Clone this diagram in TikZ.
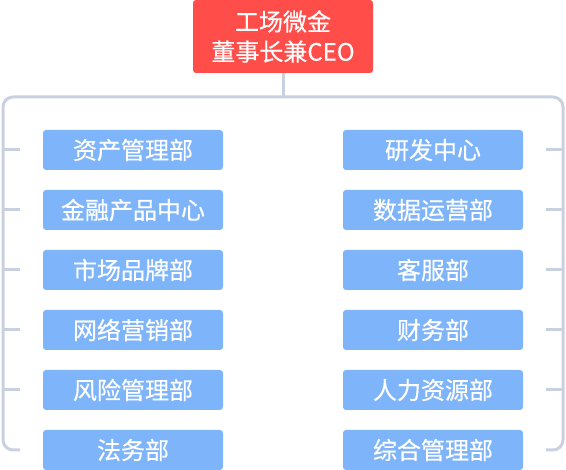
\documentclass[tikz,border=0pt]{standalone}
\usepackage{fontspec}
\newfontfamily\cjk[FakeBold=0.4]{Noto Sans CJK SC}
\definecolor{ceo}{HTML}{FF4D4A}
\definecolor{dept}{HTML}{7EB4FA}
\definecolor{linec}{HTML}{C9D1E1}
\begin{document}
\begin{tikzpicture}[x=1pt,y=-1pt,
  ceobox/.style={fill=ceo, rounded corners=3pt, minimum width=180pt, minimum height=73pt, inner sep=0pt,
    text=white, font=\cjk\fontsize{24}{30}\selectfont, align=center},
  deptbox/.style={fill=dept, rounded corners=3pt, minimum width=180pt, minimum height=40pt, inner sep=0pt,
    text=white, font=\cjk\fontsize{24}{26}\selectfont},
  conn/.style={draw=linec, line width=3pt}]
\useasboundingbox (0,0) rectangle (566,470);
\node[ceobox] (ceo) at (283,36.5) {工场微金\\董事长兼CEO};
\coordinate (hub) at (283,97);
\draw[conn] (ceo.south) -- (hub);
% left column
\foreach \name/\txt [count=\i] in {l1/资产管理部,l2/金融产品中心,l3/市场品牌部,l4/网络营销部,l5/风险管理部,l6/法务部}{
  \node[deptbox] (\name) at (133,90+60*\i) {\txt};
  \coordinate (lt\i) at (20,90+60*\i);
}
\foreach \name/\txt [count=\i] in {r1/研发中心,r2/数据运营部,r3/客服部,r4/财务部,r5/人力资源部,r6/综合管理部}{
  \node[deptbox] (\name) at (433,90+60*\i) {\txt};
  \coordinate (rt\i) at (546,90+60*\i);
}
\draw[conn, rounded corners=10pt] (hub) -- (3,97) -- (3,450) -- (lt6);
\draw[conn, rounded corners=10pt] (hub) -- (563,97) -- (563,450) -- (rt6);
\foreach \i in {1,...,5}{
  \draw[conn] (lt\i) -- (3,90+60*\i);
  \draw[conn] (rt\i) -- (563,90+60*\i);
}
\end{tikzpicture}
\end{document}
